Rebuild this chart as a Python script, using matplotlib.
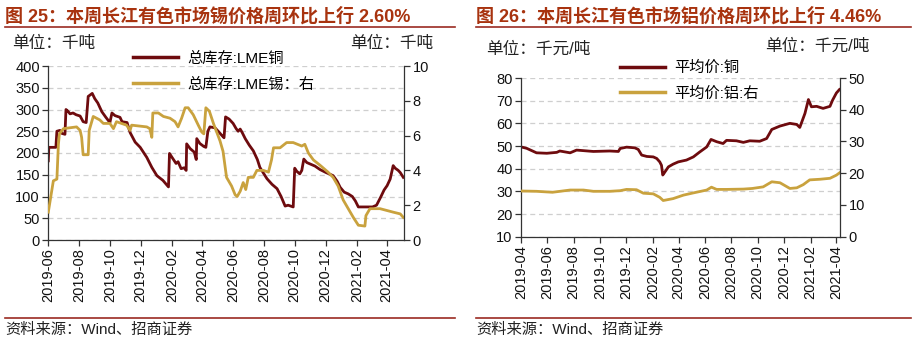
import numpy as np
import pandas as pd
import matplotlib
matplotlib.use("Agg")
import matplotlib.pyplot as plt
import matplotlib.dates as mdates
from matplotlib.lines import Line2D

plt.rcParams['font.family'] = ['Liberation Sans', 'Noto Sans CJK SC', 'DejaVu Sans']

# ---- chart 25: LME copper / tin stocks (thousand t) ----
cu_stock_dates = [
    "2019-06-01", "2019-06-02", "2019-06-16", "2019-06-18", "2019-06-24", "2019-06-28", "2019-07-04",
    "2019-07-06", "2019-07-10", "2019-07-14", "2019-07-20", "2019-07-26", "2019-08-03", "2019-08-09",
    "2019-08-15", "2019-08-19", "2019-08-27", "2019-09-01", "2019-09-07", "2019-09-15", "2019-09-23",
    "2019-10-01", "2019-10-05", "2019-10-11", "2019-10-21", "2019-10-25", "2019-11-04", "2019-11-10",
    "2019-11-20", "2019-11-30", "2019-12-13", "2019-12-23", "2020-01-02", "2020-01-14", "2020-01-25",
    "2020-01-27", "2020-02-01", "2020-02-09", "2020-02-13", "2020-02-19", "2020-02-25", "2020-02-29",
    "2020-03-01", "2020-03-08", "2020-03-16", "2020-03-20", "2020-03-21", "2020-03-27", "2020-04-04",
    "2020-04-08", "2020-04-12", "2020-04-16", "2020-04-26", "2020-05-04", "2020-05-10", "2020-05-14",
    "2020-05-17", "2020-05-24", "2020-06-01", "2020-06-07", "2020-06-11", "2020-06-15", "2020-06-19",
    "2020-06-25", "2020-07-03", "2020-07-11", "2020-07-19", "2020-07-24", "2020-08-01", "2020-08-07",
    "2020-08-17", "2020-08-27", "2020-09-04", "2020-09-12", "2020-09-18", "2020-09-28", "2020-10-01",
    "2020-10-05", "2020-10-11", "2020-10-15", "2020-10-19", "2020-10-25", "2020-10-31", "2020-11-10",
    "2020-11-20", "2020-12-02", "2020-12-16", "2020-12-24", "2020-12-30", "2021-01-07", "2021-01-15",
    "2021-01-23", "2021-01-29", "2021-02-04", "2021-02-18", "2021-03-04", "2021-03-12", "2021-03-20",
    "2021-03-27", "2021-04-02", "2021-04-08", "2021-04-14", "2021-04-18", "2021-04-24", "2021-04-28",
    "2021-05-04",
]
cu_stock = [
    182, 213, 213, 250, 252, 245, 243,
    300, 296, 290, 292, 288, 285, 272,
    270, 330, 337, 325, 315, 295, 282,
    270, 292, 286, 282, 272, 270, 247,
    225, 213, 190, 167, 148, 137, 122,
    199, 190, 176, 180, 164, 166, 160,
    221, 210, 202, 185, 233, 222, 215,
    213, 250, 260, 258, 248, 240, 235,
    283, 278, 268, 256, 250, 255, 247,
    233, 218, 205, 185, 167, 152, 141,
    128, 118, 100, 78, 80, 76, 165,
    158, 152, 160, 186, 178, 175, 170,
    162, 155, 148, 135, 121, 110, 106,
    100, 90, 76, 76, 76, 80, 98,
    115, 125, 140, 171, 165, 160, 155,
    144,
]

sn_stock_dates = [
    "2019-06-01", "2019-06-11", "2019-06-18", "2019-06-21", "2019-06-23", "2019-07-01", "2019-07-27",
    "2019-08-03", "2019-08-06", "2019-08-09", "2019-08-19", "2019-08-21", "2019-08-29", "2019-09-11",
    "2019-09-18", "2019-10-01", "2019-10-08", "2019-10-14", "2019-11-03", "2019-11-10", "2019-11-13",
    "2019-12-13", "2019-12-19", "2019-12-23", "2019-12-25", "2020-01-05", "2020-01-15", "2020-01-28",
    "2020-02-07", "2020-02-13", "2020-02-20", "2020-02-27", "2020-03-04", "2020-03-14", "2020-03-24",
    "2020-03-31", "2020-04-04", "2020-04-08", "2020-04-15", "2020-04-23", "2020-05-06", "2020-05-12",
    "2020-05-19", "2020-05-29", "2020-06-05", "2020-06-09", "2020-06-15", "2020-06-21", "2020-06-26",
    "2020-07-01", "2020-07-11", "2020-07-18", "2020-07-31", "2020-08-10", "2020-08-16", "2020-08-20",
    "2020-09-02", "2020-09-15", "2020-09-28", "2020-10-15", "2020-10-21", "2020-10-28", "2020-11-07",
    "2020-11-20", "2020-12-06", "2020-12-16", "2020-12-26", "2021-01-05", "2021-01-15", "2021-01-25",
    "2021-02-04", "2021-02-17", "2021-02-19", "2021-02-27", "2021-03-19", "2021-04-01", "2021-04-14",
    "2021-04-28", "2021-05-04",
]
sn_stock = [
    1.6, 3.4, 3.5, 5.5, 6.1, 6.4, 6.5,
    6.3, 5.9, 4.9, 4.9, 6.3, 7.1, 6.9,
    6.7, 6.7, 6.4, 6.8, 6.6, 6.3, 6.6,
    6.5, 6.4, 5.9, 7.3, 7.3, 7.1, 7.0,
    6.8, 6.5, 7.0, 7.6, 7.6, 7.2, 6.6,
    6.2, 6.1, 7.6, 7.4, 6.7, 5.7, 5.1,
    3.6, 3.1, 2.6, 2.5, 2.8, 3.3, 2.9,
    3.6, 3.6, 4.0, 4.0, 3.9, 4.6, 5.3,
    5.3, 5.6, 5.6, 5.4, 5.5, 5.0, 4.6,
    4.3, 3.9, 3.6, 3.1, 2.3, 1.8, 1.3,
    0.85, 0.8, 1.4, 1.8, 1.8, 1.7, 1.6,
    1.5, 1.3,
]

# ---- chart 26: Changjiang average prices (thousand yuan/t) ----
cu_price_dates = [
    "2019-04-01", "2019-04-14", "2019-05-07", "2019-05-31", "2019-06-23", "2019-06-30", "2019-07-24",
    "2019-08-08", "2019-09-16", "2019-10-24", "2019-11-13", "2019-11-17", "2019-12-02", "2019-12-21",
    "2019-12-29", "2020-01-06", "2020-01-18", "2020-02-02", "2020-02-10", "2020-02-17", "2020-02-21",
    "2020-02-24", "2020-02-27", "2020-03-08", "2020-03-19", "2020-03-31", "2020-04-19", "2020-05-05",
    "2020-05-20", "2020-06-05", "2020-06-15", "2020-06-28", "2020-07-13", "2020-07-21", "2020-08-13",
    "2020-08-29", "2020-09-13", "2020-10-06", "2020-10-22", "2020-11-03", "2020-11-22", "2020-12-15",
    "2020-12-31", "2021-01-07", "2021-01-19", "2021-01-27", "2021-02-03", "2021-02-15", "2021-03-02",
    "2021-03-18", "2021-03-24", "2021-04-02", "2021-04-09",
]
cu_price = [
    49.6, 49.0, 47.0, 46.8, 47.2, 47.8, 47.0,
    48.2, 47.6, 47.8, 47.6, 48.9, 49.5, 49.2,
    48.5, 46.0, 45.4, 45.2, 44.5, 43.0, 41.5,
    37.2, 38.0, 40.8, 42.0, 43.0, 43.8, 45.2,
    47.4, 49.6, 52.9, 51.9, 51.1, 52.5, 52.3,
    51.6, 52.3, 52.1, 53.3, 57.3, 58.8, 60.0,
    59.5, 58.2, 64.4, 70.5, 67.3, 67.5, 66.6,
    67.5, 70.2, 73.4, 74.9,
]

al_price_dates = [
    "2019-04-01", "2019-05-07", "2019-06-13", "2019-07-24", "2019-08-24", "2019-09-16", "2019-10-24",
    "2019-11-17", "2019-12-02", "2019-12-25", "2020-01-10", "2020-02-02", "2020-02-17", "2020-02-25",
    "2020-03-19", "2020-04-12", "2020-05-05", "2020-06-05", "2020-06-16", "2020-06-28", "2020-07-21",
    "2020-08-29", "2020-09-19", "2020-10-14", "2020-11-03", "2020-11-22", "2020-12-15", "2020-12-31",
    "2021-01-15", "2021-01-30", "2021-02-23", "2021-03-18", "2021-04-02", "2021-04-10",
]
al_price = [
    14.4, 14.3, 14.0, 14.7, 14.7, 14.3, 14.3,
    14.5, 14.9, 14.8, 13.7, 13.5, 12.4, 11.4,
    12.0, 13.1, 13.8, 14.7, 15.6, 14.9, 14.9,
    15.0, 15.2, 15.7, 17.3, 17.0, 15.2, 15.4,
    16.4, 17.9, 18.1, 18.4, 19.4, 20.2,
]

titles = ["图 25：本周长江有色市场锡价格周环比上行 2.60%",
          "图 26：本周长江有色市场铝价格周环比上行 4.46%"]
source = "资料来源：Wind、招商证券"

RED = "#6E0B0E"
GOLD = "#C9A23E"
TITLE_C = "#A8330F"
RULE_C = "#9B2B22"
W, H = 917, 344

fig = plt.figure(figsize=(W / 100, H / 100), dpi=100)


def fx(px):
    return px / W


def fy(py):
    return 1 - py / H


def style_axes(ax, ax2):
    for a in (ax, ax2):
        a.spines['top'].set_visible(False)
        for s in a.spines.values():
            s.set_color('#333333')
            s.set_linewidth(0.9)
        a.tick_params(direction='out', length=4, width=0.9, color='#333333',
                      labelsize=10.5, pad=2, labelcolor='#111111')
    ax.spines['right'].set_visible(False)
    ax2.spines['left'].set_visible(False)
    ax2.spines['bottom'].set_visible(False)
    ax.yaxis.grid(True, linestyle=(0, (4, 3)), color='#CFCFCF', linewidth=0.9)
    ax.set_axisbelow(True)
    ax.xaxis.set_major_locator(mdates.MonthLocator(bymonth=[2, 4, 6, 8, 10, 12]))
    ax.xaxis.set_major_formatter(mdates.DateFormatter('%Y-%m'))
    for lab in ax.get_xticklabels():
        lab.set_rotation(90)


# left chart
ax = fig.add_axes([fx(48.3), fy(240), fx(404.3 - 48.3), fy(66) - fy(240)])
ax2 = ax.twinx()
ax.plot(pd.to_datetime(cu_stock_dates), cu_stock, color=RED, lw=2.0)
ax2.plot(pd.to_datetime(sn_stock_dates), sn_stock, color=GOLD, lw=2.0)
ax.set_xlim(pd.Timestamp("2019-06-01"), pd.Timestamp("2021-05-06"))
ax.set_ylim(0, 400)
ax.set_yticks(np.arange(0, 401, 50))
ax2.set_ylim(0, 10)
ax2.set_yticks(np.arange(0, 11, 2))
style_axes(ax, ax2)
ax.legend(handles=[Line2D([], [], color=RED, lw=2.5), Line2D([], [], color=GOLD, lw=2.5)],
          labels=["总库存:LME铜", "总库存:LME锡：右"], loc='upper left',
          bbox_to_anchor=(fx(125), fy(44)), bbox_transform=fig.transFigure,
          frameon=False, fontsize=11, handlelength=3.0, handletextpad=0.6,
          labelspacing=0.75, borderpad=0)

# right chart
bx = fig.add_axes([fx(521), fy(236.7), fx(840.3 - 521), fy(78) - fy(236.7)])
bx2 = bx.twinx()
bx.plot(pd.to_datetime(cu_price_dates), cu_price, color=RED, lw=2.0)
bx2.plot(pd.to_datetime(al_price_dates), al_price, color=GOLD, lw=2.0)
bx.set_xlim(pd.Timestamp("2019-04-01"), pd.Timestamp("2021-04-11"))
bx.set_ylim(10, 80)
bx.set_yticks(np.arange(10, 81, 10))
bx2.set_ylim(0, 50)
bx2.set_yticks(np.arange(0, 51, 10))
style_axes(bx, bx2)
bx.legend(handles=[Line2D([], [], color=RED, lw=2.5), Line2D([], [], color=GOLD, lw=2.5)],
          labels=["平均价:铜", "平均价:铝:右"], loc='upper left',
          bbox_to_anchor=(fx(612), fy(53)), bbox_transform=fig.transFigure,
          frameon=False, fontsize=11, handlelength=3.0, handletextpad=0.6,
          labelspacing=0.75, borderpad=0)

# titles, rules, units, source
for x0, x1, t in [(5, 455, titles[0]), (476, 911, titles[1])]:
    fig.text(fx(x0), fy(16.5), t, fontsize=13, fontweight='bold', color=TITLE_C,
             va='center', ha='left')
    fig.add_artist(Line2D([fx(x0), fx(x1)], [fy(27), fy(27)], color=RULE_C, lw=1.2))
    fig.add_artist(Line2D([fx(x0), fx(x1)], [fy(317.5), fy(317.5)], color=RULE_C, lw=1.2))
    fig.text(fx(x0), fy(330), source, fontsize=11, color='#222222', va='center', ha='left')

fig.text(fx(12), fy(43), "单位：千吨", fontsize=12, color='#222222', va='center')
fig.text(fx(433), fy(43), "单位：千吨", fontsize=12, color='#222222', va='center', ha='right')
fig.text(fx(486), fy(49), "单位：千元/吨", fontsize=12, color='#222222', va='center')
fig.text(fx(869), fy(46), "单位：千元/吨", fontsize=12, color='#222222', va='center', ha='right')

fig.savefig("out.png", dpi=100)
